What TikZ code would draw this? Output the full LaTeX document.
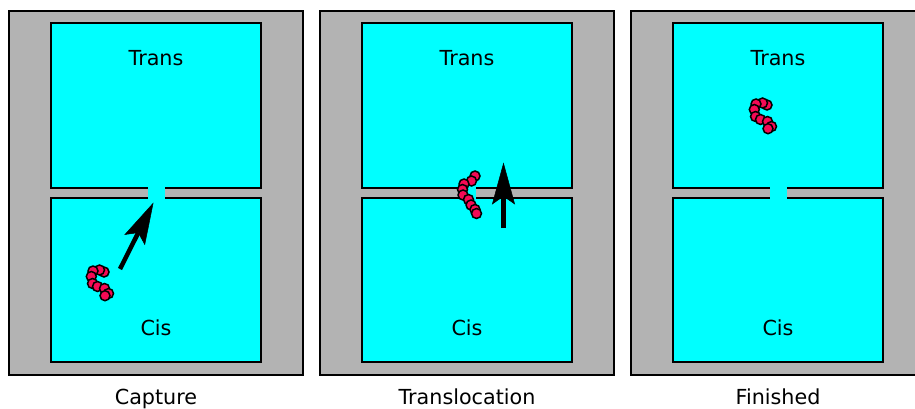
\documentclass[tikz,border=0pt]{standalone}
\usepackage{fontspec}
\setmainfont{DejaVu Sans}
\usetikzlibrary{arrows.meta,positioning}

\definecolor{wallgray}{RGB}{179,179,179}
\definecolor{bathcyan}{RGB}{0,255,255}
\definecolor{beadred}{RGB}{245,10,85}

\tikzset{
  wall/.style={draw, line width=2pt, fill=wallgray},
  chamber/.style={draw, line width=2pt, fill=bathcyan},
  pore/.style={fill=bathcyan},
  bead/.style={circle, draw, line width=1.5pt, fill=beadred, inner sep=0pt, minimum size=10pt},
  push/.style={-{Stealth[length=42pt, width=23pt, inset=8pt, line width=0.5pt]}, line width=4.5pt},
  caption/.style={font=\fontsize{20.7}{24}\selectfont, anchor=base}
}

\begin{document}
\begin{tikzpicture}[x=1pt, y=-1pt]
    \useasboundingbox (0,0) rectangle (915,409);
    \clip (0,0) rectangle (915,409);

    % Capture
    \draw[wall] (9,11) rectangle (303,375);
    \draw[chamber] (51,23) rectangle (261,188);
    \draw[chamber] (51,198) rectangle (261,362);
    \fill[pore] (147.5,186.5) rectangle (164.5,199.5);
    \node[caption] (trans1) at (156,65.5) {Trans};
    \node[caption] (cis1) at (156,335.5) {Cis};
    \node[caption] (name1) at (156,404) {Capture};
    \foreach \x/\y [count=\n] in {104/272, 99.5/270, 93/271, 91.3/276.5, 92.5/283.5,
        97.5/286.5, 104.5/288.5, 108.5/293.5, 105/295.7}
        \node[bead] (bead1-\n) at (\x,\y) {};
    \coordinate (tail1) at (120,269);
    \coordinate (tip1) at (153.5,202.5);
    \draw[push] (tail1) -- (tip1);

    % Translocation
    \begin{scope}[xshift=311pt]
        \draw[wall] (9,11) rectangle (303,375);
        \draw[chamber] (51,23) rectangle (261,188);
        \draw[chamber] (51,198) rectangle (261,362);
        \fill[pore] (147.5,186.5) rectangle (164.5,199.5);
        \node[caption] (trans2) at (156,65.5) {Trans};
        \node[caption] (cis2) at (156,335.5) {Cis};
        \node[caption] (name2) at (156,404) {Translocation};
        \foreach \x/\y [count=\n] in {164/176, 160.5/181, 153/184, 151.5/189.5, 152/195,
            157.5/199.5, 160/205, 164/209.5, 165.5/213.5}
            \node[bead] (bead2-\n) at (\x,\y) {};
        \coordinate (tail2) at (192.5,228);
        \coordinate (tip2) at (192.5,162.5);
        \draw[push] (tail2) -- (tip2);
    \end{scope}

    % Finished
    \begin{scope}[xshift=622pt]
        \draw[wall] (9,11) rectangle (303,375);
        \draw[chamber] (51,23) rectangle (261,188);
        \draw[chamber] (51,198) rectangle (261,362);
        \fill[pore] (147.5,186.5) rectangle (164.5,199.5);
        \node[caption] (trans3) at (156,65.5) {Trans};
        \node[caption] (cis3) at (156,335.5) {Cis};
        \node[caption] (name3) at (156,404) {Finished};
        \foreach \x/\y [count=\n] in {145/105, 140.5/103, 134/104, 132.3/109.5, 133.5/116.5,
            138.5/119.5, 145.5/121.5, 149.5/126.5, 146/128.7}
            \node[bead] (bead3-\n) at (\x,\y) {};
    \end{scope}
\end{tikzpicture}
\end{document}
